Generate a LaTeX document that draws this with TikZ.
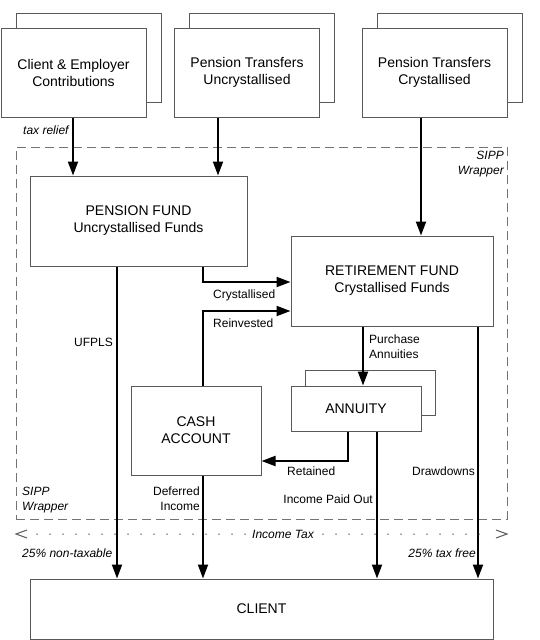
\documentclass[tikz,border=0pt]{standalone}
\usepackage{fontspec}
\setmainfont{Liberation Sans}
\usetikzlibrary{arrows.meta}
\begin{document}
\begin{tikzpicture}[x=1pt,y=-1pt,
 box/.style={draw=black!65, line width=1pt, fill=white, inner sep=0pt, align=center, font=\fontsize{14}{17}\selectfont},
 arr/.style={line width=2pt, -{Triangle[length=14pt,width=10pt]}},
 lbl/.style={font=\fontsize{12}{15}\selectfont, inner sep=0pt, align=left},
 ilbl/.style={lbl, font=\fontsize{12}{15}\selectfont\itshape},
 wrapper/.style={draw=black!55, line width=1pt, dash pattern=on 9pt off 5pt, inner sep=0pt},
 taxline/.style={draw=black!75, line width=1.5pt, line cap=round, dash pattern=on 0pt off 13pt},
 chev/.style={draw=black!65, line width=1pt}]
\useasboundingbox (0,0) rectangle (539,640);
% wrapper
\node[wrapper, minimum width=491pt, minimum height=372pt] (wrap) at (261.5,333) {};
% top boxes
\node[box, minimum width=145pt, minimum height=89pt] (b1back) at (88.5,57.5) {};
\node[box, minimum width=145pt, minimum height=89pt] (b1) at (73.5,72.5) {Client \& Employer\\Contributions};
\node[box, minimum width=145pt, minimum height=89pt] (b2back) at (262,57.5) {};
\node[box, minimum width=145pt, minimum height=89pt] (b2) at (247,72.5) {Pension Transfers\\Uncrystallised};
\node[box, minimum width=145pt, minimum height=89pt] (b3back) at (449.5,57.5) {};
\node[box, minimum width=145pt, minimum height=89pt] (b3) at (434.5,72.5) {Pension Transfers\\Crystallised};
% inner boxes
\node[box, minimum width=217pt, minimum height=90pt] (pf) at (138.5,221) {PENSION FUND\\Uncrystallised Funds};
\node[box, minimum width=202pt, minimum height=90pt] (rf) at (392,281) {RETIREMENT FUND\\Crystallised Funds};
\node[box, minimum width=130pt, minimum height=45pt] (anback) at (370,393) {};
\node[box, minimum width=130pt, minimum height=45pt] (an) at (356,408.5) {ANNUITY};
\node[box, minimum width=130pt, minimum height=89pt] (ca) at (196,430.5) {CASH\\ACCOUNT};
\node[box, minimum width=463pt, minimum height=60pt] (cl) at (261.5,609) {CLIENT};
% helper coordinates
\coordinate (c1) at (73,0);
\coordinate (c2) at (218,0);
\coordinate (c3) at (421,0);
\coordinate (cr) at (203,282);
\coordinate (rv) at (203,311);
\coordinate (u) at (117,0);
\coordinate (p) at (363,0);
\coordinate (d) at (478,0);
\coordinate (r) at (348,461);
\coordinate (ip) at (377,0);
\coordinate (tl) at (16,534);
\coordinate (tr) at (507,534);
% connectors
\draw[arr] (b1.south -| c1) -- (pf.north -| c1);
\draw[arr] (b2.south -| c2) -- (pf.north -| c2);
\draw[arr] (b3.south -| c3) -- (rf.north -| c3);
\draw[arr] (pf.south -| cr) |- (rf.west |- cr);
\draw[arr] (ca.north -| rv) |- (rf.west |- rv);
\draw[arr] (pf.south -| u) -- (cl.north -| u);
\draw[arr] (rf.south -| p) -- (an.north -| p);
\draw[arr] (rf.south -| d) -- (cl.north -| d);
\draw[arr] (an.south -| r) |- (ca.east |- r);
\draw[arr] (an.south -| ip) -- (cl.north -| ip);
\draw[arr] (ca.south -| rv) -- (cl.north -| rv);
% income tax line
\draw[taxline] ([xshift=21pt]tl) -- ([xshift=-21pt]tr);
\draw[chev] ([xshift=11pt,yshift=-4pt]tl) -- (tl) -- ([xshift=11pt,yshift=4pt]tl);
\draw[chev] ([xshift=-11pt,yshift=-4pt]tr) -- (tr) -- ([xshift=-11pt,yshift=4pt]tr);
\node[ilbl, fill=white, inner xsep=2pt] (it) at (283,534) {Income Tax};
% labels
\node[ilbl, anchor=west] (trl) at (23,130) {tax relief};
\node[ilbl, anchor=east, align=right] (sw1) at (504,164.5) {SIPP\\Wrapper};
\node[ilbl, anchor=west] (sw2) at (22,500.5) {SIPP\\Wrapper};
\node[lbl, anchor=west] (lcr) at (213,295) {Crystallised};
\node[lbl, anchor=west] (lrv) at (213,323) {Reinvested};
\node[lbl, anchor=east] (luf) at (113,342) {UFPLS};
\node[lbl, anchor=west] (lpa) at (369,347) {Purchase\\Annuities};
\node[lbl, anchor=west] (lre) at (287,471) {Retained};
\node[lbl, anchor=east] (ldd) at (475,471) {Drawdowns};
\node[lbl, anchor=east, align=right] (ldi) at (200,498.5) {Deferred\\Income};
\node[lbl, anchor=east] (lip) at (373,499) {Income Paid Out};
\node[ilbl, anchor=west] (lnt) at (22,553) {25\% non-taxable};
\node[ilbl, anchor=east] (ltf) at (476,553) {25\% tax free};
\end{tikzpicture}
\end{document}
